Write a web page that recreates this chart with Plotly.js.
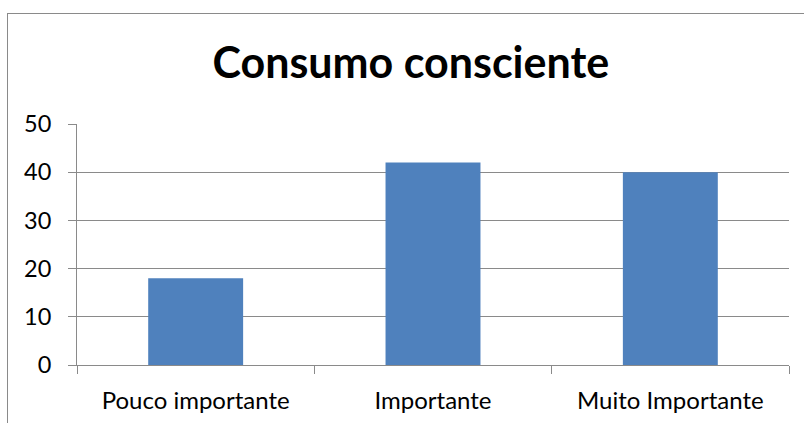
<!DOCTYPE html>
<html>
<head>
<meta charset="utf-8">
<script src="https://cdn.plot.ly/plotly-3.0.1.min.js"></script>
<style>
  html, body { margin: 0; padding: 0; background: #ffffff; }
  #wrap { position: relative; width: 804px; height: 423px; overflow: hidden; }
  #frame { position: absolute; left: 7px; top: 13px; width: 900px; height: 500px;
           border-left: 1px solid #8a8a8a; border-top: 1px solid #8a8a8a; pointer-events: none; }
  #chart { position: absolute; left: 0; top: 0; width: 804px; height: 423px; }
</style>
</head>
<body>
<div id="wrap">
  <div id="chart"></div>
  <div id="frame"></div>
</div>
<script>
const categories = ["Pouco importante", "Importante", "Muito Importante"];
const values = [18, 42, 40];
const yTicks = [0, 10, 20, 30, 40, 50];
const chartTitle = "Consumo consciente";

const fontFamily = "Lato, 'Open Sans', sans-serif";

const data = [{
  type: "bar",
  x: categories,
  y: values,
  marker: { color: "#4f81bd", line: { width: 0 } },
  hoverinfo: "none"
}];

const layout = {
  width: 804,
  height: 423,
  margin: { l: 77, r: 15, t: 124, b: 58, pad: 0 },
  paper_bgcolor: "rgba(0,0,0,0)",
  plot_bgcolor: "#ffffff",
  showlegend: false,
  bargap: 0.6,
  title: {
    text: "<b>" + chartTitle + "</b>",
    font: { family: fontFamily, size: 43, color: "#000000" },
    x: 0.511, xanchor: "center",
    y: 0.852, yanchor: "middle"
  },
  xaxis: {
    type: "category",
    tickson: "boundaries",
    ticks: "outside",
    ticklen: 8,
    tickcolor: "#8a8a8a",
    tickwidth: 1,
    showline: true,
    linecolor: "#8a8a8a",
    linewidth: 1,
    showgrid: false,
    zeroline: false,
    tickfont: { family: fontFamily, size: 24, color: "#000000" },
    ticklabelstandoff: 14,
    fixedrange: true
  },
  yaxis: {
    range: [0, 50],
    tickvals: yTicks,
    ticktext: yTicks.map(String),
    ticks: "outside",
    ticklen: 8,
    tickcolor: "#8a8a8a",
    tickwidth: 1,
    showline: true,
    linecolor: "#8a8a8a",
    linewidth: 1,
    showgrid: true,
    gridcolor: "#8a8a8a",
    gridwidth: 1,
    zeroline: false,
    tickfont: { family: fontFamily, size: 23.5, color: "#000000" },
    ticklabelstandoff: 12,
    fixedrange: true
  }
};

Plotly.newPlot("chart", data, layout, { displayModeBar: false, staticPlot: true });
</script>
</body>
</html>
